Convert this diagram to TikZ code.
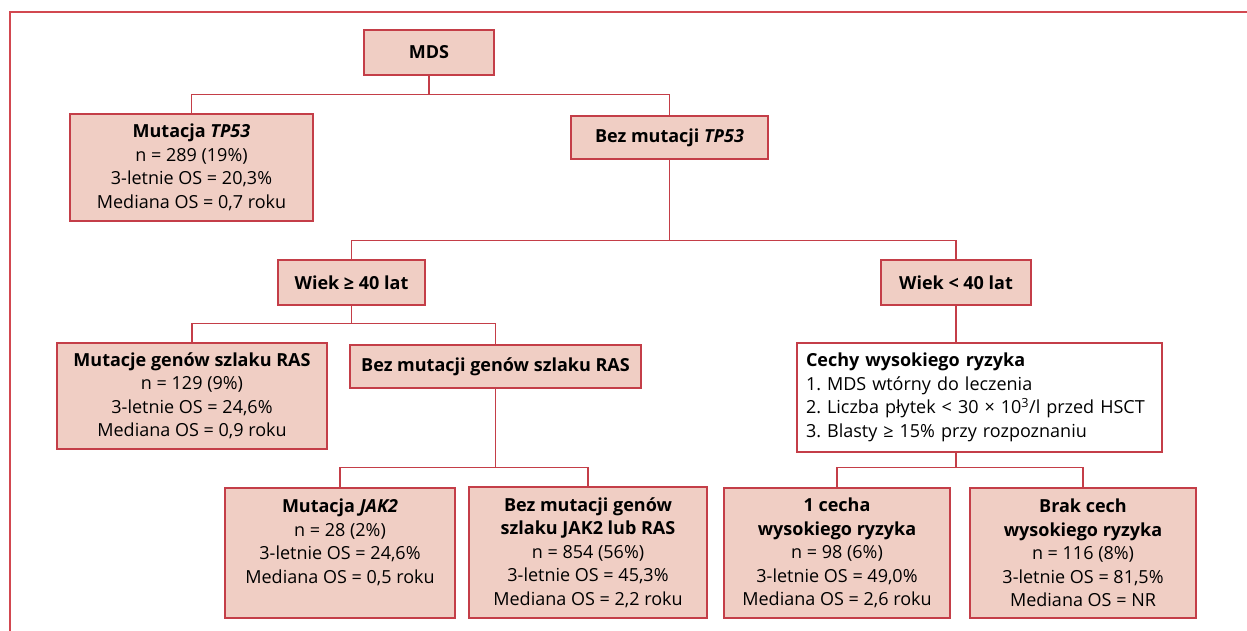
\documentclass[tikz,border=0pt]{standalone}
\usepackage{fontspec}
\setmainfont{Open Sans}
\usetikzlibrary{positioning}
\definecolor{boxfill}{RGB}{240,206,196}
\definecolor{boxline}{RGB}{196,62,72}
\definecolor{frameline}{RGB}{210,72,80}
\tikzstyle{block}=[draw=boxline,fill=boxfill,rectangle,line width=1.3pt,align=center,inner sep=0pt]
\tikzstyle{every node}=[font=\fontsize{18}{23.5}\selectfont]
\tikzstyle{link}=[draw=boxline,line width=1.3pt]
\newcommand{\gene}[1]{\textit{#1}}
\frenchspacing

\begin{document}
\begin{tikzpicture}[x=1pt,y=-1pt]
  \useasboundingbox (0,0) rectangle (1247,631);
  \draw[frameline, line width=2pt] (10,631) -- (10,12) -- (1247,12);
  % level 1
  \node[block, minimum width=130pt, minimum height=45pt] (mds) at (429,52.5) {\textbf{MDS}};
  \node[block, minimum width=243pt, minimum height=107pt] (tp53) at (191.5,167.5)
    {\textbf{Mutacja \gene{TP53}}\\ n = 289 (19\%)\\ 3-letnie OS = 20,3\%\\ Mediana OS = 0,7 roku};
  \node[block, minimum width=197pt, minimum height=43pt] (beztp) at (669.5,137.5) {\textbf{Bez mutacji \gene{TP53}}};
  % level 2
  \node[block, minimum width=147pt, minimum height=45pt] (wiekA) at (351.5,282.5) {\textbf{Wiek ≥ 40 lat}};
  \node[block, minimum width=150pt, minimum height=45pt] (wiekB) at (956,282.5) {\textbf{Wiek < 40 lat}};
  % level 3
  \node[block, minimum width=270pt, minimum height=106pt] (ras) at (192,396)
    {\textbf{Mutacje genów szlaku RAS}\\ n = 129 (9\%)\\ 3-letnie OS = 24,6\%\\ Mediana OS = 0,9 roku};
  \node[block, minimum width=291pt, minimum height=43pt] (bezras) at (495.5,366.5) {\textbf{Bez mutacji genów szlaku RAS}};
  \node[block, fill=white, align=left, text width=347pt, inner xsep=9pt, minimum height=109pt] (cechy) at (979.5,397.5)
    {\textbf{Cechy wysokiego ryzyka}\\ 1. MDS wtórny do leczenia\\ 2. Liczba płytek < 30 × 10\textsuperscript{3}/l przed HSCT\\ 3. Blasty ≥ 15\% przy rozpoznaniu};
  % level 4
  \node[block, minimum width=230pt, minimum height=130pt] (jak) at (340,553)
    {\textbf{Mutacja \gene{JAK2}}\\ n = 28 (2\%)\\ 3-letnie OS = 24,6\%\\ Mediana OS = 0,5 roku\\ \mbox{}};
  \node[block, minimum width=238pt, minimum height=131pt] (bezjak) at (588,552.5)
    {\textbf{Bez mutacji genów}\\ \textbf{szlaku JAK2 lub RAS}\\ n = 854 (56\%)\\ 3-letnie OS = 45,3\%\\ Mediana OS = 2,2 roku};
  \node[block, minimum width=226pt, minimum height=130pt] (jedna) at (837,553)
    {\textbf{1 cecha}\\ \textbf{wysokiego ryzyka}\\ n = 98 (6\%)\\ 3-letnie OS = 49,0\%\\ Mediana OS = 2,6 roku};
  \node[block, minimum width=226pt, minimum height=130pt] (brak) at (1083,553)
    {\textbf{Brak cech}\\ \textbf{wysokiego ryzyka}\\ n = 116 (8\%)\\ 3-letnie OS = 81,5\%\\ Mediana OS = NR};
  % junctions
  \coordinate[below=19pt of mds] (j1);
  \coordinate[below=81pt of beztp] (j2);
  \coordinate[below=18pt of wiekA] (j3);
  \coordinate[below=79pt of bezras] (j4);
  \path (cechy.south -| wiekB.south) ++(0,15) coordinate (j5);
  % connectors
  \draw[link] (mds) -- (j1);
  \draw[link] (tp53) |- (j1) -| (beztp);
  \draw[link] (beztp) -- (j2);
  \draw[link] (wiekA) |- (j2) -| (wiekB);
  \draw[link] (wiekA) -- (j3);
  \draw[link] (ras) |- (j3) -| (bezras);
  \draw[link] (wiekB.south) -- (wiekB.south |- cechy.north);
  \draw[link] (bezras) -- (j4);
  \draw[link] (jak) |- (j4) -| (bezjak);
  \draw[link] (cechy.south -| j5) -- (j5);
  \draw[link] (jedna) |- (j5) -| (brak);
\end{tikzpicture}
\end{document}
